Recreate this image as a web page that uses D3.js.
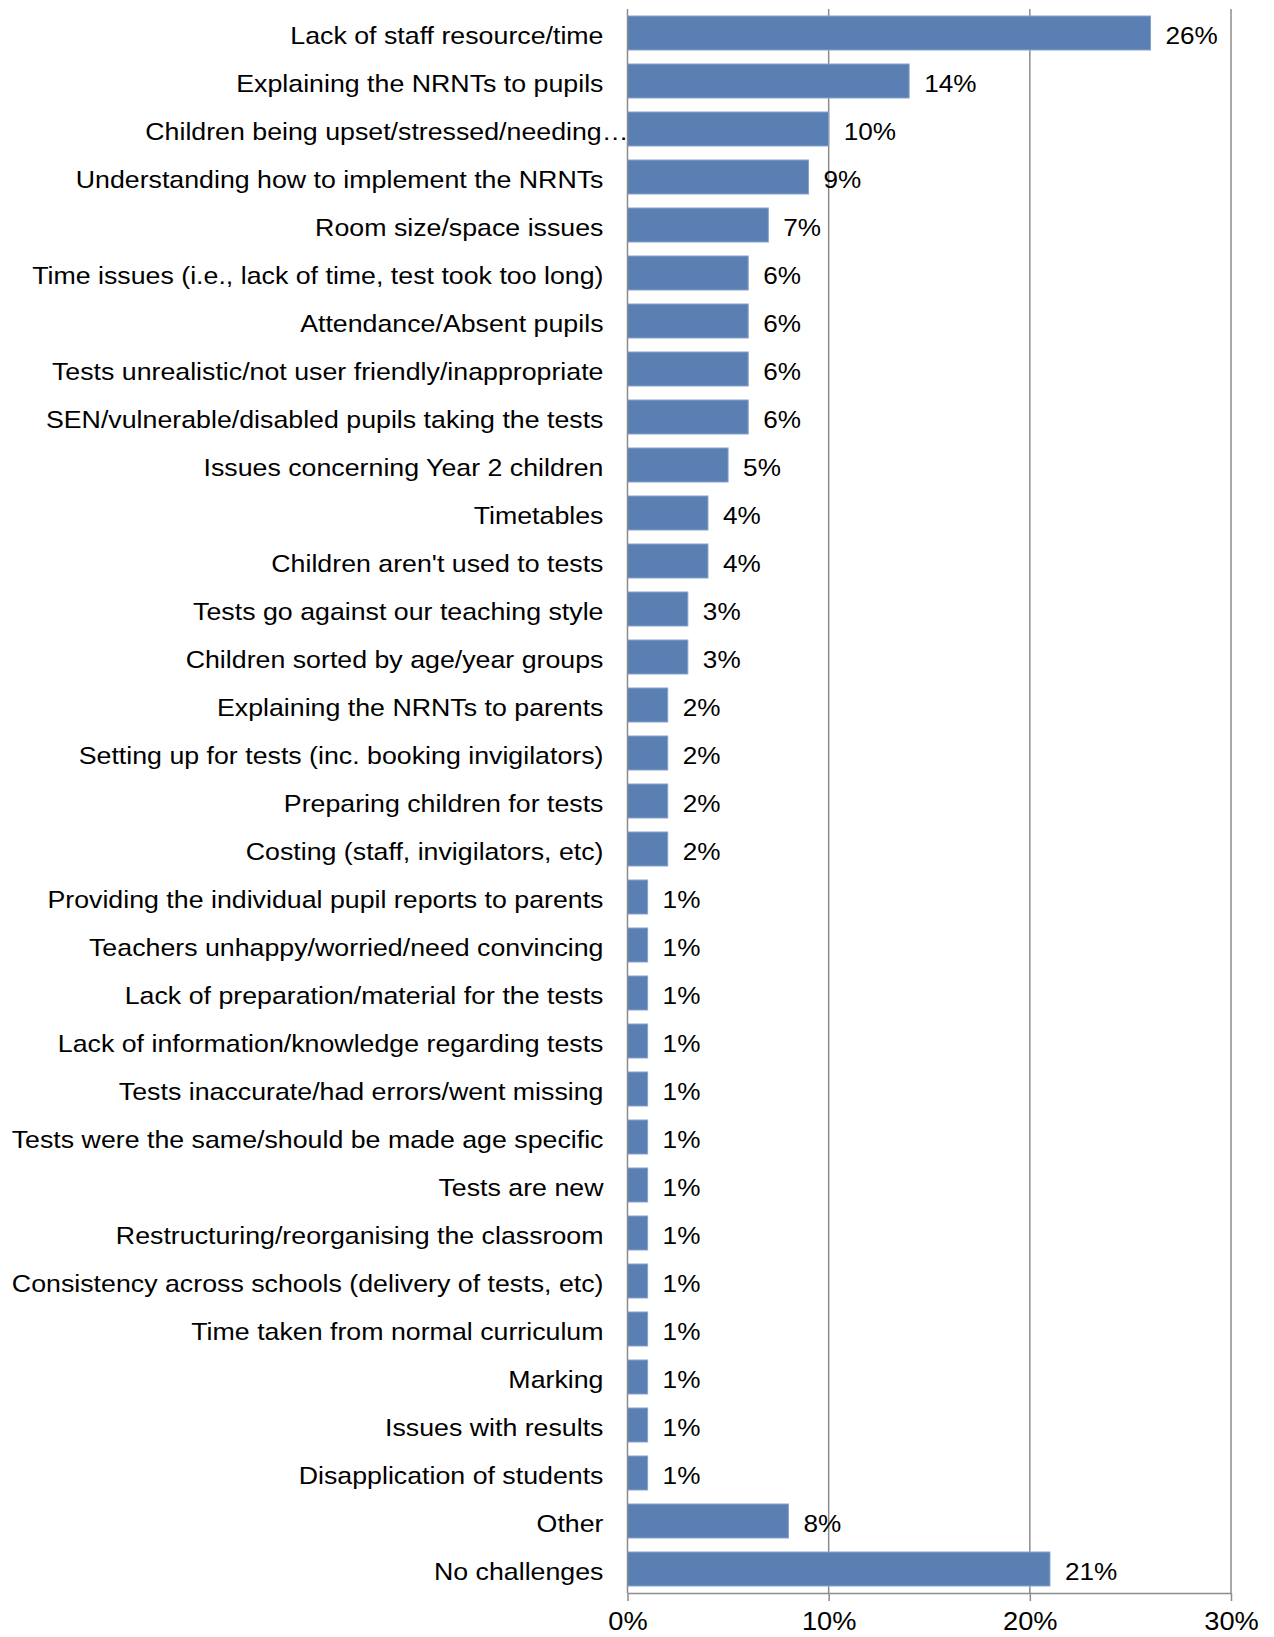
<!DOCTYPE html>
<html>
<head>
<meta charset="utf-8">
<script src="https://cdn.jsdelivr.net/npm/d3@7"></script>
<style>
  html, body { margin: 0; padding: 0; background: #fff; }
  svg { display: block; }
  text { font-family: "Liberation Sans", Arial, sans-serif; fill: #000; }
</style>
</head>
<body>
<svg id="chart" width="1274" height="1637"></svg>
<script>
// Challenges reported in administering the tests (% of schools)
const categories = [
  "Lack of staff resource/time",
  "Explaining the NRNTs to pupils",
  "Children being upset/stressed/needing…",
  "Understanding how to implement the NRNTs",
  "Room size/space issues",
  "Time issues (i.e., lack of time, test took too long)",
  "Attendance/Absent pupils",
  "Tests unrealistic/not user friendly/inappropriate",
  "SEN/vulnerable/disabled pupils taking the tests",
  "Issues concerning Year 2 children",
  "Timetables",
  "Children aren't used to tests",
  "Tests go against our teaching style",
  "Children sorted by age/year groups",
  "Explaining the NRNTs to parents",
  "Setting up for tests (inc. booking invigilators)",
  "Preparing children for tests",
  "Costing (staff, invigilators, etc)",
  "Providing the individual pupil reports to parents",
  "Teachers unhappy/worried/need convincing",
  "Lack of preparation/material for the tests",
  "Lack of information/knowledge regarding tests",
  "Tests inaccurate/had errors/went missing",
  "Tests were the same/should be made age specific",
  "Tests are new",
  "Restructuring/reorganising the classroom",
  "Consistency across schools (delivery of tests, etc)",
  "Time taken from normal curriculum",
  "Marking",
  "Issues with results",
  "Disapplication of students",
  "Other",
  "No challenges"
];
const values = [26, 14, 10, 9, 7, 6, 6, 6, 6, 5, 4, 4, 3, 3, 2, 2, 2, 2,
                1, 1, 1, 1, 1, 1, 1, 1, 1, 1, 1, 1, 1, 8, 21];
const tickValues = [0, 10, 20, 30];
const tickLabels = ["0%", "10%", "20%", "30%"];

const data = categories.map((c, i) => ({ category: c, value: values[i] }));

const svg = d3.select("#chart");
const plotLeft = 627.5, plotRight = 1231, plotTop = 9, plotBottom = 1593;
const stretch = 1.115;         // labels are set slightly wide
const fontSize = 24;
const textShift = 2.5;         // optical centring of labels on the bars
const gridColor = "#8c8c8c";

const x = d3.scaleLinear().domain([0, 30]).range([plotLeft, plotRight]);
const y = d3.scaleBand()
  .domain(categories)
  .range([plotTop, plotBottom])
  .paddingInner(14 / 48)
  .paddingOuter(7 / 48);

const midY = c => y(c) + y.bandwidth() / 2 + textShift;

// vertical gridlines at the major ticks
svg.append("g").selectAll("line")
  .data(tickValues.slice(1))
  .join("line")
  .attr("x1", d => x(d)).attr("x2", d => x(d))
  .attr("y1", plotTop).attr("y2", plotBottom)
  .attr("stroke", gridColor).attr("stroke-width", 1.5);

// bars
svg.append("g").selectAll("rect")
  .data(data)
  .join("rect")
  .attr("x", x(0))
  .attr("y", d => y(d.category))
  .attr("width", d => x(d.value) - x(0))
  .attr("height", y.bandwidth())
  .attr("fill", "#5a7fb3")
  .attr("stroke", "#86a3cc")
  .attr("stroke-width", 1);

// value labels
svg.append("g").selectAll("text")
  .data(data)
  .join("text")
  .attr("transform", d => `translate(${x(d.value) + 15},${midY(d.category)}) scale(1.09,1)`)
  .attr("dy", "0.35em")
  .attr("font-size", fontSize)
  .text(d => d.value + "%");

// category axis (left)
const yAxis = svg.append("g");
yAxis.append("line")
  .attr("x1", x(0)).attr("x2", x(0))
  .attr("y1", plotTop).attr("y2", plotBottom)
  .attr("stroke", gridColor).attr("stroke-width", 1.5);
yAxis.selectAll("text")
  .data(categories)
  .join("text")
  .attr("transform", d => {
    const xe = d.endsWith("…") ? x(0) + 1 : x(0) - 24;
    return `translate(${xe},${midY(d)}) scale(${stretch},1)`;
  })
  .attr("dy", "0.35em")
  .attr("text-anchor", "end")
  .attr("font-size", fontSize)
  .text(d => d);

// value axis (bottom)
const xAxis = svg.append("g").attr("transform", `translate(0,${plotBottom})`)
  .call(d3.axisBottom(x)
    .tickValues(tickValues)
    .tickFormat((d, i) => tickLabels[i])
    .tickSize(8)
    .tickSizeOuter(0));
xAxis.select(".domain").attr("stroke", gridColor).attr("stroke-width", 1.5);
xAxis.selectAll(".tick line").attr("stroke", gridColor).attr("stroke-width", 1.5);
xAxis.selectAll(".tick text")
  .attr("font-size", fontSize + 1)
  .attr("y", 0)
  .attr("dy", 0)
  .attr("transform", `translate(0,37) scale(1.09,1)`)
  .attr("fill", "#000")
  .style("font-family", "'Liberation Sans', Arial, sans-serif");
</script>
</body>
</html>
